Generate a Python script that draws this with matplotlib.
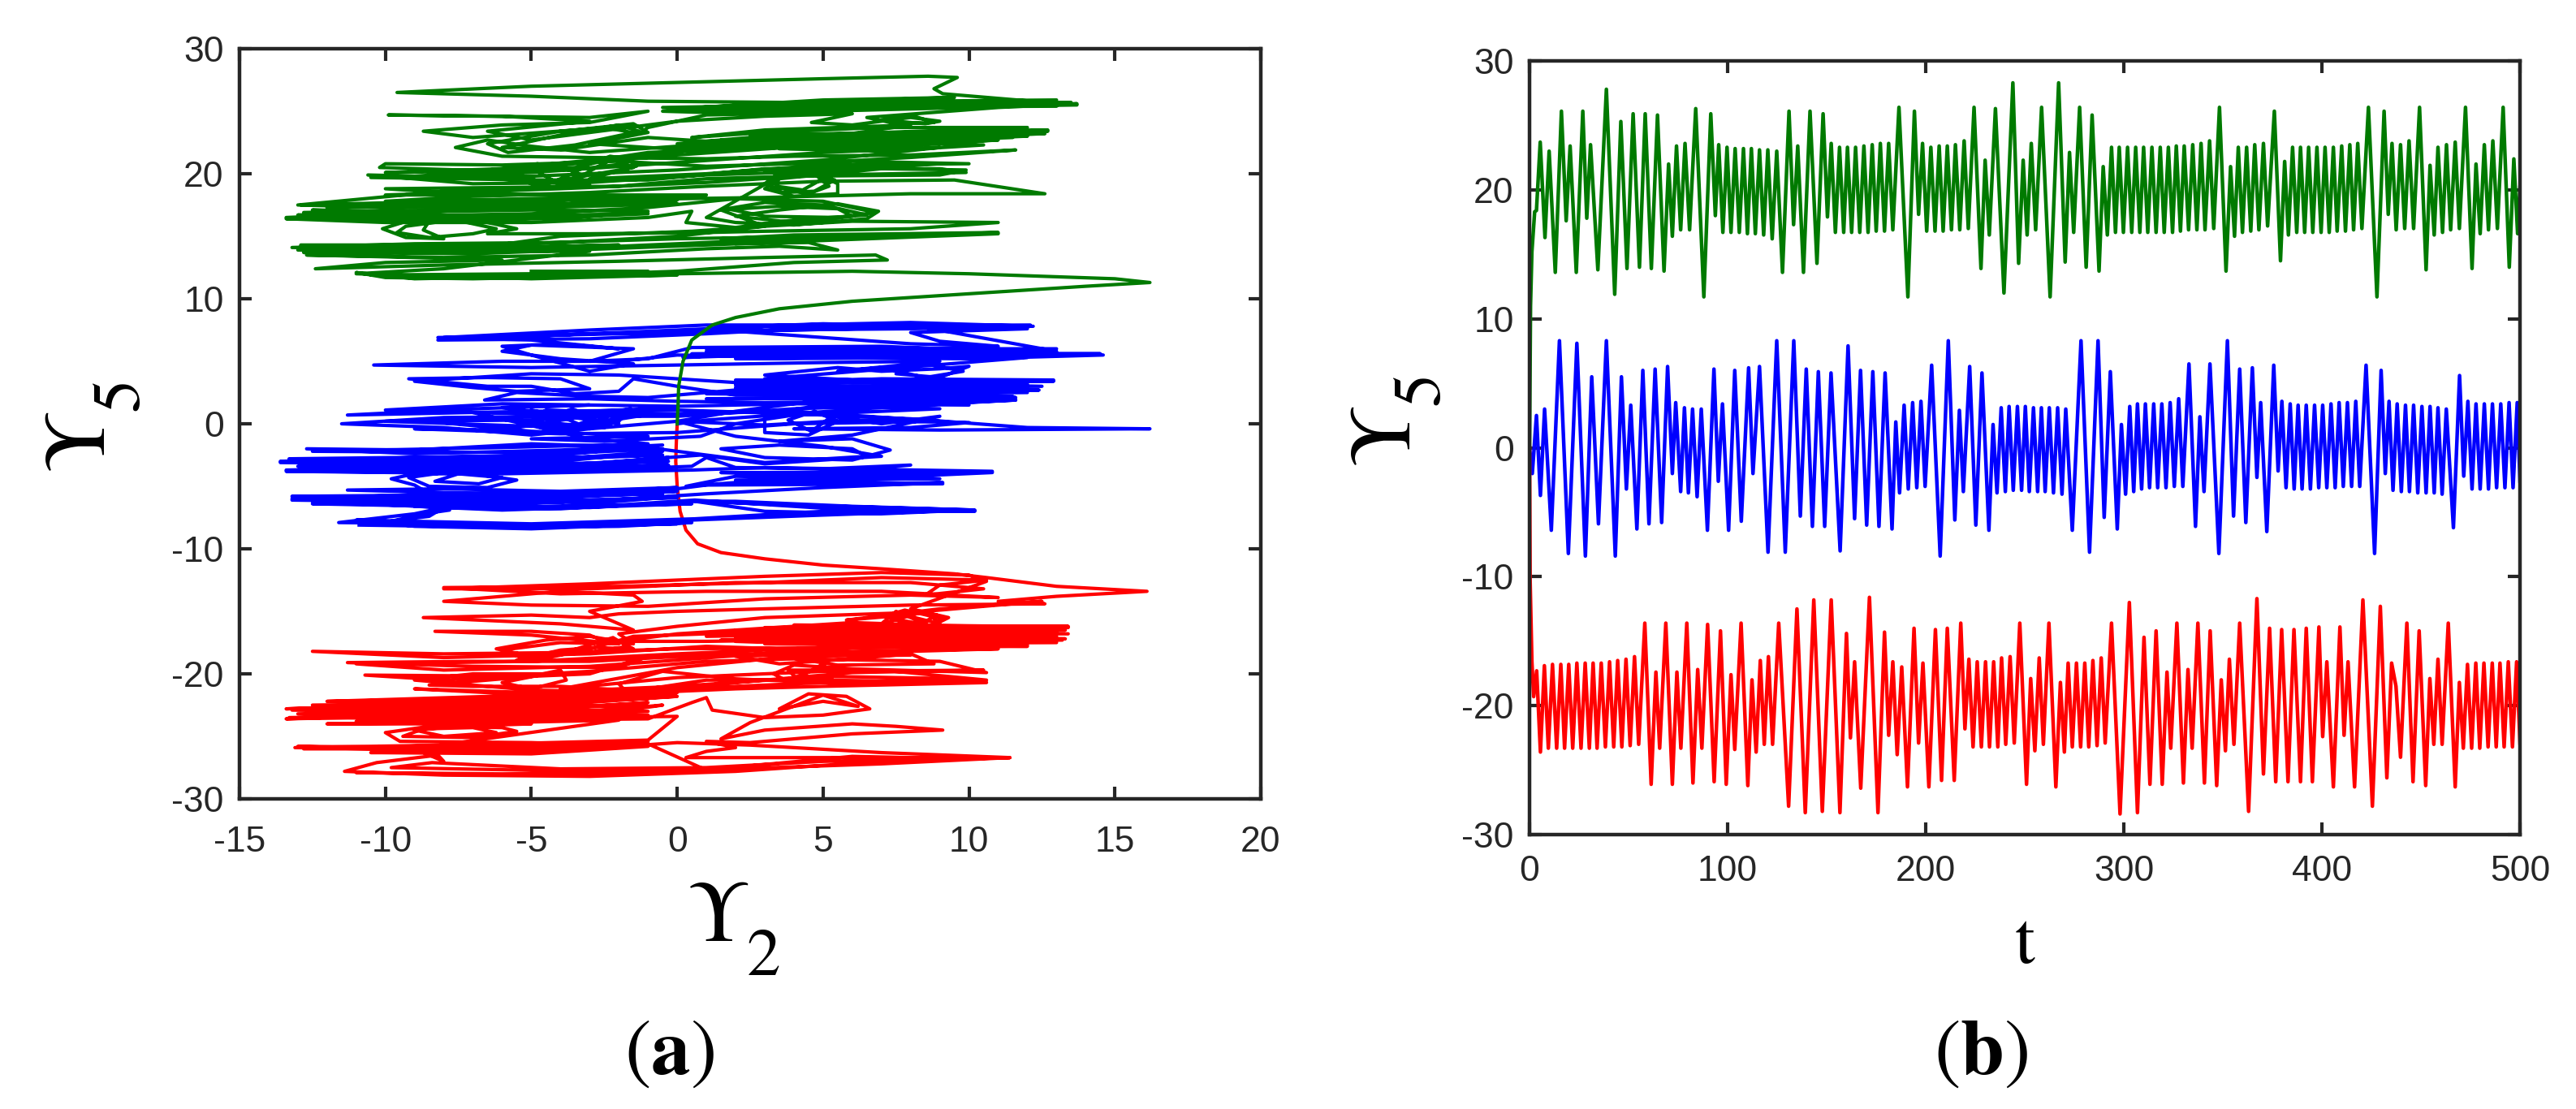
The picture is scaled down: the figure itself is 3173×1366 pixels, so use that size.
import numpy as np
import matplotlib
matplotlib.use('Agg')
import matplotlib.pyplot as plt

W, H = 3173, 1366
DARK = '#262626'
GREEN = '#007a00'
BLUE = '#0000ff'
RED = '#ff0000'

x_ticks_a = [-15, -10, -5, 0, 5, 10, 15, 20]
y_ticks = [-30, -20, -10, 0, 10, 20, 30]
x_ticks_b = [0, 100, 200, 300, 400, 500]

# (a) orbits, Y2 vs Y5, traced by eye
green_orbit = [
    (0, 0), (0.03, 1.5), (0.05, 3), (0.2, 5), (0.5, 6.7), (1.2, 7.9), (2, 8.5), (3.5, 9.2), (6, 9.8), (10, 10.4),
    (14, 11), (16.2, 11.3), (15, 11.6), (10, 12), (6, 12.2), (3, 12.1), (0, 12), (-3, 11.8), (-7, 11.6), (-10, 11.7),
    (-11, 12.1), (-9, 11.6), (-5, 11.8), (0, 12.2), (4, 12.9), (7.2, 13.1), (6.8, 13.5), (3, 13.3), (-2, 13), (-8, 12.7),
    (-12.4, 12.4), (-10, 12.9), (-6, 13.1), (-9, 13.3), (-12.7, 13.5), (-8, 13.3), (-3, 13.5), (1, 14), (3.5, 14.2), (5.5, 13.9),
    (4.5, 14.5), (2, 14.4), (1.5, 14.8), (4, 15.1), (11, 15.3), (6, 14.9), (2, 14.6), (-3, 14.1), (-8, 13.9), (-13.2, 14.1),
    (-9, 14.4), (-4, 14.5), (0, 15), (3, 15.8), (6, 16.2), (11, 16.1), (8, 15.6), (3, 15.4), (1, 15.3), (-3, 15.2),
    (-6.5, 15.2), (-5.5, 15.6), (-6.5, 16.1), (-8, 16.2), (-9.3, 15.8), (-9.6, 15.3), (-8.5, 14.9), (-7, 15.2), (-6.2, 15.6), (-7.2, 16.1),
    (-9, 16.4), (-10.1, 15.6), (-9.3, 14.9), (-8, 14.8), (-8.7, 15.5), (-8.5, 16.2), (-12, 16.4), (-13.4, 16.4), (-10, 16.1), (-5, 16.1),
    (-1, 16.5), (0.5, 17), (0.3, 16.1), (2, 15.7), (4, 16.3), (6.5, 16.7), (5, 17.5), (3, 17.7), (1.7, 17.2), (3, 16.6),
    (5.5, 16.5), (6.8, 16.9), (5, 17.8), (2, 18), (-1, 17.3), (-5, 16.8), (-10, 16.6), (-13, 16.7), (-9, 16.5), (-4, 16.4),
    (-1, 17), (-5, 17.1), (-10, 16.9), (-12.5, 17.1), (-9, 17), (-4, 17.4), (0, 17.9), (-5, 17.5), (-10, 17.3), (-12.9, 17.5),
    (-9, 17.6), (-5, 17.8), (-1, 18.2), (-5, 18), (-10, 17.8), (-7, 18.2), (-3, 18.5), (1, 19), (5, 19.4), (9.5, 19.5),
    (12.6, 18.4), (8, 18.4), (3, 18.1), (0, 18), (-4, 18.3), (-8, 18.5), (-10, 18.8), (-6, 18.9), (-2, 19), (1, 19.6),
    (4, 19.8), (9, 19.9), (9.9, 20.3), (7, 20.4), (3.5, 19.6), (3, 18.8), (4, 18.2), (5.5, 18.4), (5.5, 19.2), (4.8, 20),
    (3.5, 20), (3.2, 19), (4.5, 18.4), (5.2, 19), (4.7, 20), (4, 19.8), (5, 20.5), (9, 20.8), (5, 20.2), (1, 19.9),
    (-3, 19.3), (-7, 19.2), (-10.6, 19.9), (-7, 19.7), (-3.5, 19.2), (-3.5, 20.2), (-4.8, 20.8), (-5.5, 20), (-4.5, 19.2), (-3.2, 19.8),
    (-3.9, 20.6), (-4.9, 20.3), (-4.2, 19.4), (-1.5, 20.5), (-2.2, 21.2), (-3.5, 20.5), (-6, 20.2), (-10.2, 20.5), (-10, 20.8), (-6, 20.7),
    (-2, 21), (1, 20.6), (4, 20.8), (8, 21.3), (11.6, 21.9), (8, 21.5), (4, 21.4), (1, 21.2), (-3, 21.3), (-6, 21.4),
    (-7.6, 22.1), (-6.5, 22.7), (-5, 22.2), (-3, 21.7), (0, 22.2), (3, 22.5), (7, 23), (12.7, 23.5), (7, 22.8), (3, 22.7),
    (0, 22.4), (3, 23), (7, 23.3), (12, 23.7), (7, 23.7), (3, 23.3), (0.5, 22.9), (3, 23.5), (8, 23.9), (3, 22.2),
    (7, 22.3), (11, 22.7), (7, 22.1), (3.5, 22), (7, 21.8), (10.5, 22.3), (7, 22.5), (1, 21.8), (-3, 22.4), (-1, 23.3),
    (-1.5, 24), (-3.5, 23.5), (-7, 22.9), (-8.7, 23.4), (-6, 23.9), (-3, 24.1), (-1, 25), (-3, 24.5), (-9.9, 24.7), (-6, 24.6),
    (-3, 24.2), (-6.5, 23.4), (-5, 22.7), (-3, 23.3), (0, 24.2), (3, 24.6), (6, 24.8), (4.6, 24.1), (6, 23.9), (8, 24.5),
    (9, 24.2), (8.5, 24), (7, 24.3), (8, 24.7), (8.8, 24.1), (7.5, 24), (6.5, 24.5), (11, 25.3), (13.7, 25.6), (10, 25.3),
    (5, 25), (1, 24.9), (-0.5, 25), (3, 25.4), (8, 25.5), (13, 25.9), (8, 25.8), (3, 25.6), (0, 25.2), (5, 25.9),
    (9.5, 26.1), (4, 25.7), (-1, 25.8), (-5, 26.2), (-9.6, 26.5), (-5, 27), (0, 27.3), (5, 27.6), (8.6, 27.8), (9.6, 27.7),
    (8.8, 26.8), (9.1, 26.4),
]
# later passes of the green orbit, these fill the solid bands and curls
green_fill = [
    (13.7, 25.5), (2, 25.1), (13.5, 25.7), (2, 25.3), (13, 25.4), (3, 25.7), (12, 25.8), (-0.5, 25.3), (5, 24.9), (1, 24.7),
    (-1, 23.7), (-1.3, 23.2), (-2.5, 23.7), (-4, 23.4), (-6.5, 22.4), (-5.8, 21.7), (-3.5, 22.3), (-1.3, 23.4), (-2, 23.9), (-3.8, 23.2),
    (-6, 22.1), (-4, 21.9), (-1, 22.9), (1, 22.6), (12.7, 23.4), (1.5, 22.7), (12.6, 23.2), (1, 22.4), (12, 23), (2, 22.5),
    (12.5, 23.5), (2.5, 23.1), (12, 23.3), (0, 22.1), (11.5, 22.9), (-1, 21.7), (-3, 21), (-7, 20.2), (-10, 20.1), (-6, 20.4),
    (-2, 21.3), (1, 22), (5, 22.6), (9, 23), (5, 22.3), (0, 21.5), (-5, 20.5), (-9, 19.8), (-5, 20.1), (0, 20.9),
    (5, 21.7), (9, 22.1), (5, 21.1), (0, 20.3), (-5, 19.8), (-10.5, 19.7), (-5, 19.5), (-1, 19.5), (3, 20.4), (9, 20.4),
    (9.9, 20.1), (5, 19.9), (3, 20.2), (6, 21), (10, 20.8), (5, 20.7), (1, 20), (-3, 19.6), (-1.4, 20.6), (-1.7, 21.2),
    (-2.3, 21.4), (-3, 20.8), (-3.6, 20), (-4.3, 19.3), (-5, 19.2), (-5.5, 19.7), (-5.2, 20.4), (-3.6, 20.3), (-1.8, 20.8), (-2.1, 21.3),
    (-2.7, 20.6), (-3.3, 19.8), (-4.1, 19.1), (-3, 19.1), (-8, 18.6), (-13, 17.5), (-6, 17.9), (-1, 18), (-7, 17.1), (-13.4, 16.5),
    (-6, 16.3), (-1, 16.8), (-7, 16.6), (-12.8, 16.9), (-6, 17.2), (0, 17.6), (-6, 17.6), (-12, 17.3), (-6, 17.7), (1, 18.3),
    (-5, 18.3), (-10, 18.3), (-4, 18.8), (1, 19.3), (4.8, 19.9), (5.4, 19.5), (4.7, 18.6), (3.6, 18.5), (3, 19.2), (3.6, 20.3),
    (4.5, 20.4), (5, 19.6), (4.3, 18.7), (3.4, 19), (3.5, 19.8), (1, 16.5), (2, 16.1), (4, 15.9), (6.5, 16.4), (6.9, 17),
    (5.5, 17.6), (3.5, 17.1), (2, 16.6), (4, 16.1), (6, 16.6), (5.5, 17.2), (3.5, 17.4), (1.5, 17.1), (3, 15.8), (0.5, 15.4),
    (-4, 15), (-8, 13.7), (-13, 13.9), (-7, 14.1), (-2, 14.3), (-7, 14), (-12.9, 14.3), (-7, 14.3), (0, 14.8), (11, 15.2),
    (1, 14.3), (-7, 13.6), (-12.8, 13.7), (-3, 13.8), (-8, 12.4), (-11, 12), (-5, 11.6), (0, 11.9), (-6, 11.7), (-10.5, 11.9),
    (-5, 12), (-1, 12.2), (-5, 12.2),
]
blue_orbit = [
    (0, 0), (1, 0.3), (4, 0.8), (7, 1.3), (10, 1.7), (11.6, 1.9), (8, 1.5), (4, 1.2), (0, 0.6), (-4, 0.6),
    (-8, 0.5), (-11.5, 0), (-8, -0.3), (-5, -0.9), (-3, -0.4), (0, 0.2), (3, -0.1), (6, 0.3), (10, 0.1), (8, -0.3),
    (4, -0.4), (9, -0.5), (16.2, -0.4), (12, -0.3), (8, 0.4), (4, 0.8), (0, 1.1), (-5, 1), (-11.3, 0.7), (-7, 1.2),
    (-3, 1.5), (-6, 1.3), (-2, 0), (-3.2, 1), (-4.5, 1.1), (-5, 0.2), (-4, -0.6), (-2.8, 0.5), (-3.6, 1.2), (-4.5, 0.4),
    (-3.6, -0.5), (-2.3, 0.7), (-1.5, 1), (-2.5, -0.3), (-6, 0.4), (-9, 0.3), (-5, -0.6), (-1, -1), (-5, -1.2), (-2.5, -1.4),
    (0.8, -1), (2, 0), (4, 0.7), (7, 1), (9, 1.2), (5, 1.5), (3, 0.8), (3, -0.7), (4.5, -0.9), (5.5, 0.2),
    (4.7, 1), (3.8, 0.3), (4.6, -0.6), (5.3, 0.6), (7, 0), (9, 0.6), (6, -0.9), (3.5, -1.4), (6, -1.2), (7.3, -2.1),
    (6, -2.9), (3, -2.7), (1.5, -2), (3.5, -1.7), (6, -2), (6.5, -2.6), (3, -3.1), (1, -2.5), (-1, -1.9), (-5, -1.6),
    (-9, -2.1), (-12.7, -2), (-9, -2.4), (-4, -2.1), (-0.5, -1.7), (-4, -2.5), (-9, -2.7), (-13.6, -3), (-9, -2.9), (-4, -2.8),
    (-0.5, -2.2), (-4, -3), (-9, -3.2), (-12, -3.2), (-8, -3.3), (-3, -3.2), (-0.3, -2.7), (-4, -3.5), (-9, -3.5), (-13.4, -3.7),
    (-9, -3.8), (-4, -3.8), (0.5, -3.4), (1, -2.7), (2, -3.5), (5, -3.6), (8, -3.3), (5, -3.9), (1.5, -3.9), (5, -4.1),
    (10.8, -3.9), (6, -4.4), (2, -4.2), (0.3, -5), (2, -4.7), (6, -4.8), (9.1, -4.7), (5, -5.1), (1, -5.6), (-3, -6.2),
    (-8, -6), (-13.2, -6), (-8, -5.6), (-3, -5.5), (0, -5.1), (-4, -5.4), (-8, -5.2), (-11.3, -5.3), (-8, -5.5), (-3, -5.7),
    (0, -5.4), (-4, -5.9), (-9, -6.2), (-4, -6.3), (0, -5.8), (-4, -6.6), (-9, -6.5), (-12.5, -6.2), (-8, -6.7), (-3, -6.7),
    (0.5, -6.2), (4, -6.5), (10.2, -6.9), (6, -6.6), (2, -6.2), (0.6, -6.2), (3, -7), (7, -7.2), (10, -6.9), (5, -7.3),
    (0.5, -7.7), (-4, -8.1), (-8, -8), (-11.6, -7.9), (-9, -7.2), (-8, -6.7), (-8.5, -7.4), (-10.2, -7.9), (-6, -8.3), (-2, -8.2),
    (0.5, -7.9), (-5, -8.4), (-9, -8.2), (-10, -7.9), (-8.7, -7.2), (-7.8, -6.9), (-8.2, -6), (-9, -4.9), (-9.8, -4.4), (-9, -4),
    (-7, -4), (-5.5, -4.5), (-6.5, -5.1), (-8.5, -5), (-9.2, -4.3), (-8, -3.9), (-6, -4.3), (-6.8, -4.8), (-8.3, -4.6), (-7.5, -4),
    (-6, -3.6), (-2, -3), (0.8, -2.5), (3, -3.2), (7, -2.6), (5, -1.8), (2, -1), (0, 0.2), (2, 1), (5, 1.9),
    (9, 2.2), (11.6, 1.9), (7, 1.8), (3, 1.7), (0, 1.8), (-3, 2), (-6.6, 1.9), (-5.5, 2.5), (-3, 2.2), (-1, 2.1),
    (2, 2.7), (6, 2.9), (12, 2.5), (7, 2.4), (2, 2.3), (0, 3), (-1.5, 3.6), (-2, 2.6), (-3.5, 2.4), (-5, 3),
    (-6.5, 3), (-9.2, 3.6), (-6.5, 3.7), (-4, 3.6), (-3, 2.8), (-5.5, 2.6), (-7, 2.9), (-9, 3.4), (-5, 4), (-2, 3.9),
    (2, 3.3), (6, 3.3), (12.9, 3.5), (7, 3.6), (2, 3.1), (7, 3), (12, 3.2), (6, 3.5), (3, 3.9), (5.5, 4.5),
    (7, 4.2), (9, 4.4), (10, 4.6), (9, 3.7), (7.5, 4), (8.5, 4.8), (9.8, 4.2), (8.5, 3.7), (7, 4.5), (5.5, 4.2),
    (9, 5), (5, 4.9), (0, 4.7), (-5, 4.5), (-10.4, 4.7), (-6, 5), (-2, 5), (0, 5.5), (5, 5.3), (10, 5.2),
    (14.6, 5.5), (9, 5.8), (4, 5.6), (0.2, 5.3), (5, 6), (12.9, 5.9), (7, 6.1), (1, 5.8), (6, 5.4), (13, 5.6),
    (7, 6.2), (0.5, 6.1), (-1, 5.2), (-3, 5), (-1.5, 6), (-5, 6.3), (-6, 5.8), (-4, 5.2), (-1.5, 4.8), (-3, 4.2),
    (-5, 5.5), (-6, 6.2), (-4, 6.4), (-2, 6), (-5, 6.7), (-8.2, 6.9), (-5, 7), (0, 7.5), (4, 7.9), (8, 8.1),
    (12.2, 7.8), (8, 7.6), (3, 7.5), (1.5, 7.7), (5, 8), (12, 7.6), (8, 7.3), (9, 6.6), (11, 6.2), (8, 6.4),
    (2, 7.4), (-3, 7.2), (-8.2, 6.7), (-3, 6.8), (1, 7.2), (5, 7.7),
]
blue_fill = [
    (12, 7.7), (2, 7.8), (12.1, 7.9), (-8, 6.9), (-3, 7.5), (1, 7.9), (8, 7.9), (13, 5.8), (1, 5.5), (14.5, 5.6),
    (1, 5.7), (13, 6), (1, 6), (12, 5.8), (0.5, 5.6), (13, 5.5), (2, 5.2), (12, 5.3), (3, 3.6), (12.9, 3.4),
    (2, 3.5), (12.5, 3), (2, 2.9), (12, 2.8), (2, 2.5), (12.4, 2.7), (1, 2.4), (11.5, 2.2), (1, 2), (11.6, 2.1),
    (5, 2.1), (10, 1.5), (4, 1.6), (0, 1.4), (-6, 1.6), (-10, 1.1), (-5, 0.8), (0, 1.3), (-5, 0.3), (-10, 0.2),
    (-5, -0.2), (-3, 0), (-1.1, 0.7), (-1.3, 1.2), (-2.3, 0.3), (-3.1, -0.3), (-4.5, -0.4), (-5.6, 0.3), (-5, 1.1), (-4, 0.6),
    (-3, -0.4), (-2, 0.2), (-1.6, 1.2), (-6, -0.5), (-9, -0.4), (-4, -0.8), (0, -0.7), (4, 0), (9, 0.2), (4, 1),
    (0, 0.8), (-7, 0.9), (-3, -1.2), (-1, -1.6), (-6, -1.9), (-12.5, -2.2), (-6, -2.3), (-0.5, -2), (-6, -2.6), (-13.3, -2.8),
    (-6, -2.8), (-0.5, -2.5), (-6, -3), (-13.6, -3.1), (-6, -3.3), (-0.3, -3), (-6, -3.5), (-13, -3.4), (-6, -3.7), (-0.3, -3.3),
    (-7, -3.9), (-13.4, -3.8), (-6, -4), (0.5, -3.7), (3, -3.5), (10.8, -3.8), (3, -3.9), (9, -4.4), (2, -4.5), (9.1, -4.8),
    (1, -4.9), (-1, -5.5), (-8, -5.7), (-13.2, -5.8), (-8, -5.9), (-0.5, -5.6), (-8, -6.1), (-13.2, -6.1), (-7, -6.3), (0, -5.9),
    (-7, -6.5), (-12.5, -6.4), (-6, -6.7), (0.5, -6.4), (-6, -6.9), (-9, -6.6), (-4, -6.8), (0.6, -6.1), (6, -6.9), (10.2, -7),
    (5, -7), (0.6, -7.6), (-5, -8), (-11, -7.7), (-5, -8.2), (0, -8), (-5, -8.3), (-10.9, -8.1),
]
red_orbit = [
    (0, 0), (-0.03, -1.5), (-0.05, -3), (0, -5), (0.1, -7), (0.3, -8.5), (0.7, -9.6), (1.5, -10.3), (3, -10.8), (5, -11.3),
    (7, -11.6), (9.5, -12), (10.6, -12.3), (13, -13), (16.1, -13.4), (13, -13.8), (11, -14.2), (12.6, -14.4), (8, -14.5), (3, -14.8),
    (0, -15), (-2, -15.2), (-3, -15.5), (-5, -15.3), (-8.7, -15.5), (-4, -16), (-1.5, -16.5), (-3, -15), (-1.2, -14.2), (-1.5, -13.7),
    (-4, -13.4), (-8, -14.2), (-5, -14.5), (-1, -14.6), (3, -14), (8, -13.7), (11, -13.9), (7, -13.4), (1, -13.4), (-4, -13.6),
    (-8, -13.1), (-2, -13), (3, -12.7), (7, -12.3), (10.6, -12.5), (9, -12.9), (8.5, -13.7), (10.5, -13.2), (8, -12.7), (2, -12.7),
    (-3, -13.2), (-8, -13.2), (-3, -12.8), (3, -12.2), (7, -11.9), (10, -12.1), (10.6, -12.6), (8, -14.8), (9.3, -15.5), (8.7, -16.2),
    (7.5, -15), (7, -16), (8.5, -15), (9, -16), (7.8, -15.3), (5.8, -15.7), (9, -14.8), (12.5, -14.2), (8, -15.1), (3, -15.5),
    (0, -16.2), (-2, -16.8), (-1.5, -17.6), (-2.5, -17.4), (-3, -16.9), (-5, -16.6), (-8.3, -16.6), (-5, -16.9), (-2, -17.6), (-4, -17.5),
    (-6, -18.1), (-5, -19), (-3, -18), (-1.5, -17), (1, -16.8), (5, -16.2), (13.4, -16.3), (6, -16.5), (1, -17), (6, -16.8),
    (13, -16.6), (6, -17), (1.5, -17.3), (6, -17.2), (13.2, -17.3), (7, -17.5), (2, -17.4), (7, -17.7), (12, -17.7), (6, -17.9),
    (0, -18), (-4, -18.3), (-8, -18.4), (-12.5, -18.2), (-8, -18.7), (-3, -18.4), (1, -17.8), (6, -18.2), (11, -18), (5, -18.4),
    (2, -18.6), (3.5, -19.2), (6, -18.8), (8, -18.4), (8.8, -19.2), (5.5, -19.3), (3, -18.4), (1, -18.5), (-3, -19), (-7, -19),
    (-11.3, -19.1), (-7, -19.4), (-2, -19.5), (-1, -18.6), (-3, -20), (-5, -20.2), (-10.7, -20.1), (-8, -20.5), (-3, -19.8), (1, -19),
    (4, -18.8), (9, -19), (10.6, -19.9), (6, -19.6), (4, -19.3), (3.3, -20), (3.7, -20.5), (4.4, -20), (5, -19.2), (5.3, -20.3),
    (4.2, -20.6), (3.8, -19.7), (7, -19.7), (10.6, -20.5), (6, -20.8), (2, -20.4), (-0.5, -19.8), (-2, -20.8), (-1.8, -21.3), (-4, -21),
    (-7, -21), (-8.5, -20.9), (-5, -20.2), (-4, -19.7), (-3.8, -20.5), (-5, -21.2), (-6, -20.7), (-4.5, -20), (-7, -20), (-9, -20.5),
    (-5, -21.3), (-1, -21.5), (2, -21.2), (5, -21), (10.6, -20.7), (5, -20.5), (1, -20.5), (-1, -21.2), (-5, -21.7), (-12, -22.2),
    (-7, -22), (-2, -21.9), (0, -21.5), (-5, -22.1), (-13.4, -22.8), (-8, -22.4), (-3, -22.2), (0, -21.8), (-5, -22.6), (-10, -22.8),
    (-5, -22.9), (-1, -22.3), (-6, -23), (-13.4, -23.6), (-7, -23.3), (-2, -23), (-0.5, -22.5), (-5, -23.4), (-11, -23.8), (-5, -23.7),
    (-1, -23.6), (0.5, -22.3), (1, -21.9), (1.2, -22.9), (3, -23.5), (5, -23.3), (6.6, -22.8), (5.8, -21.8), (4.5, -21.6), (3.5, -22.8),
    (5, -22.2), (6.2, -22.6), (5, -21.7), (2.5, -23.9), (1.5, -25.2), (3, -24.5), (6, -24), (7.5, -24.2), (9.1, -24.5), (6, -24.8),
    (2.5, -25.5), (1, -25.4), (2, -25.9), (1, -26.2), (0.3, -26.7), (3, -26.7), (7, -26.7), (11.4, -26.7), (7, -26.3), (2.5, -25.7),
    (0, -25.5), (-3, -26), (-8, -26.1), (-13.1, -25.9), (-8, -25.7), (-4, -25.7), (-1, -25.4), (-5, -26.2), (-10.5, -26.3), (-5, -26.4),
    (-1, -25.8), (-5, -25.5), (-9.5, -25.4), (-10, -24.7), (-8.5, -24.2), (-6, -24.3), (-5.5, -24.6), (-7, -25.1), (-9.4, -25), (-8.7, -24.4),
    (-7, -24.3), (-6.2, -24.7), (-8, -25), (-9, -24.5), (-7.5, -24.2), (-5, -24), (-9, -24), (-12, -24), (-6, -23.9), (-2, -23.7),
    (-9, -26), (-8, -27), (-8.2, -26.5), (-10.3, -27.1), (-11.4, -27.8), (-8, -28.1), (-3, -28.2), (2, -27.8), (7, -27), (11.4, -26.7),
    (7, -27.2), (2, -27.6), (-3, -27.8), (-9.8, -27.5), (-8.4, -27.1), (-4, -27.6), (1, -27.5), (5, -27),
]
red_fill = [
    (10, -26.8), (6, -26.6), (0, -27.9), (-6, -28), (-11, -27.9), (-5, -28.1), (1, -27.7), (-1, -25.6), (-8, -25.9), (-13, -25.8),
    (-7, -26.2), (-2, -25.8), (-7, -26), (-12.8, -26), (-6, -25.6), (-1, -25.3), (0, -23.4), (-6, -23.6), (-13.3, -23.5), (-6, -23.2),
    (-1, -23), (-6, -22.8), (-13, -23.2), (-6, -23.5), (-1, -23.3), (-7, -23.1), (-13.2, -22.9), (-6, -22.5), (-1, -22.6), (-7, -22.7),
    (-12.5, -22.5), (-6, -22.3), (-1, -22), (-7, -22.2), (-11.5, -22.3), (-5, -21.9), (0, -21.2), (5, -20.7), (10, -20.4), (5, -20.2),
    (0, -21), (-5, -21.5), (-9, -21.2), (-4, -21.8), (1, -20.9), (6, -19.9), (10.5, -19.7), (5, -19.8), (0, -20.3), (-4, -21.2),
    (0, -19.5), (4, -18.6), (8, -18.5), (4, -18.2), (0, -18.9), (-3, -19.4), (-8, -19.7), (-11, -19.2), (-5, -19), (0, -18.4),
    (5, -17.9), (12, -17.8), (3, -17.6), (13, -17.5), (2, -17.2), (13.3, -17.2), (2, -17), (13, -17), (1, -16.8), (13.4, -16.8),
    (2, -16.5), (13.3, -16.5), (3, -16.3), (13.4, -16.2), (4, -16.1), (12, -16.2), (6, -16.1), (8.5, -16.4), (9.1, -15.6), (7.8, -14.9),
    (7.1, -15.4), (8.2, -16.2), (8.9, -15.3), (8.1, -15), (7.4, -15.6), (8.6, -16.1), (6, -15.9), (4, -16.2), (0, -16.8), (-2, -17.4),
    (-1.5, -18), (-2.8, -17.9), (-4, -18.1), (-5.5, -18.9), (-4, -18.4), (-2.2, -17.1), (-1.7, -17.8), (-3, -18.3), (-5, -18.6), (-6.2, -18),
    (-4.5, -17.3), (-3, -17), (-2, -17.4), (1, -17.4), (7, -17.2),
]

# (b) extrema of Y5(t) as (t, value)
green_ts = [
    (0, 0), (0.5, 11), (1.2, 15.2), (2.6, 18.3), (3.5, 18.4), (5.4, 23.7), (7.8, 16.3), (9.9, 23), (13, 13.6), (16.1, 26.1),
    (18.5, 17.6), (20.5, 23.4), (23.6, 13.6), (26.9, 26.1), (28.9, 17.8), (30.8, 23.5), (34.5, 13.8), (38.8, 27.8), (43, 11.9), (46.1, 25.3),
    (49.2, 13.9), (52.3, 25.9), (55.5, 14), (58.4, 25.9), (61.5, 13.9), (64.6, 25.8), (67.9, 13.7), (70.2, 22), (72.1, 16.4), (74.2, 23.4),
    (76.3, 16.9), (78.5, 23.6), (80.8, 16.9), (83.9, 26.3), (88, 11.7), (91.5, 25.9), (93.8, 18), (95.5, 23.5), (97.6, 16.7), (99.7, 23.3),
    (101.7, 16.7), (103.8, 23.2), (105.9, 16.7), (108, 23.2), (110, 16.6), (112, 23.2), (114, 16.6), (116.1, 23.1), (118.2, 16.5), (120.3, 23.1),
    (122.5, 16.2), (124.8, 23), (127.7, 13.6), (131, 26.1), (133.3, 17.3), (135.4, 23.4), (138.3, 13.6), (141.6, 26.1), (145.1, 14.3), (148.2, 25.9),
    (150.4, 17.9), (152.3, 23.6), (154.4, 16.7), (156.5, 23.3), (158.6, 16.7), (160.5, 23.3), (162.6, 16.7), (164.6, 23.3), (166.7, 16.7), (168.8, 23.4),
    (170.9, 16.7), (173, 23.5), (175, 16.8), (177.1, 23.6), (179.2, 16.8), (181.3, 23.6), (183.4, 16.9), (186.5, 26.4), (191, 11.7), (194.3, 26.1),
    (196.4, 18.1), (198.4, 23.6), (200.5, 16.8), (202.6, 23.3), (204.7, 16.8), (206.8, 23.4), (208.8, 16.8), (210.9, 23.4), (213, 16.9), (215, 23.5),
    (217.2, 16.9), (219.4, 23.8), (221.5, 17), (224.4, 26.4), (227.9, 13.9), (230, 22.3), (232.1, 16.5), (235.2, 26.3), (239.5, 12), (244, 28.3),
    (246.9, 14.3), (249.2, 22.3), (251.2, 16.5), (253.3, 23.6), (255.5, 16.9), (258.5, 26.4), (262.8, 11.7), (267.1, 28.3), (270.4, 14.4), (272.6, 22.9),
    (274.7, 16.7), (277.7, 26.4), (281, 14), (284, 25.8), (287.5, 13.7), (289.6, 21.8), (291.7, 16.5), (293.8, 23.3), (295.8, 16.7), (297.7, 23.3),
    (299.8, 16.7), (301.9, 23.3), (304, 16.7), (306, 23.3), (308.1, 16.7), (310, 23.3), (312.1, 16.7), (314.2, 23.3), (316.3, 16.7), (318.4, 23.3),
    (320.4, 16.7), (322.5, 23.3), (324.6, 16.7), (326.5, 23.4), (328.6, 16.8), (330.5, 23.4), (332.7, 16.9), (334.8, 23.5), (336.9, 16.9), (339, 23.6),
    (341, 16.9), (343.3, 23.8), (345.4, 17), (348.3, 26.4), (351.6, 13.7), (353.9, 21.8), (355.9, 16.4), (357.8, 23.3), (359.9, 16.7), (362, 23.3),
    (364.1, 16.8), (366.1, 23.5), (368.2, 16.9), (370.5, 23.6), (372.6, 17.2), (376, 26.1), (379.1, 14.5), (381.2, 22.2), (383.1, 16.5), (385.2, 23.3),
    (387.3, 16.7), (389.2, 23.3), (391.3, 16.7), (393.3, 23.3), (395.4, 16.7), (397.5, 23.3), (399.6, 16.7), (401.6, 23.3), (403.7, 16.7), (405.8, 23.3),
    (407.7, 16.8), (410, 23.4), (411.9, 16.8), (414.1, 23.5), (416, 16.9), (418.1, 23.6), (420.2, 17), (423.5, 26.4), (427.8, 11.7), (431.4, 26.1),
    (433.5, 18.1), (435.4, 23.6), (437.5, 16.9), (439.7, 23.5), (441.8, 17), (444, 23.8), (446.3, 17), (449.3, 26.4), (452.6, 13.8), (454.6, 21.9),
    (456.7, 16.5), (458.6, 23.3), (460.9, 16.7), (462.9, 23.5), (465, 16.9), (467.3, 23.7), (469.4, 17), (472.5, 26.4), (475.8, 13.9), (477.8, 22),
    (479.9, 16.6), (482, 23.5), (484.1, 16.9), (486.3, 23.8), (488.6, 17), (491.5, 26.4), (494.6, 14), (496.9, 22.4), (498.8, 16.6), (500, 20.2),
]
blue_ts = [
    (0, 0), (1.4, -2), (3.5, 2.5), (5.5, -3.7), (7.6, 3), (11, -6.4), (15.1, 8.3), (19.6, -8.2), (23.9, 8.1), (28.2, -8.4),
    (31.4, 5.5), (34.8, -5.9), (38.8, 8.3), (43.3, -8.4), (46.4, 5.5), (48.9, -3.2), (51.1, 3.3), (54.2, -6.3), (57.2, 6), (60.3, -5.9),
    (63.4, 6.1), (66.7, -5.8), (69.7, 6.3), (72.1, -2), (73.8, 3.5), (76.3, -3.4), (78.2, 3.1), (80.2, -3.5), (82.3, 3), (84.6, -3.8),
    (86.7, 3), (89.8, -6.4), (93.1, 6.1), (95.3, -2.6), (97.4, 3.4), (100.5, -6.4), (103.6, 6), (106.9, -5.7), (110.6, 6.2), (112.8, -2),
    (116.1, 6.3), (120.4, -8.1), (124.8, 8.3), (129.1, -8.1), (133.4, 8.3), (136.7, -5.3), (139.7, 6.1), (142.8, -6.1), (145.8, 5.9), (149, -6.1),
    (152.2, 5.8), (156.8, -8), (160.8, 7.9), (164.1, -5.5), (167.1, 6), (170.2, -6), (173.3, 5.9), (176.4, -6.1), (179.5, 5.8), (183, -6.3),
    (184.9, 2), (186.8, -3.5), (189.1, 3.3), (191.2, -3.2), (193.4, 3.5), (195.5, -3.1), (197.6, 3.6), (199.7, -3), (203, 6.4), (207.3, -8.4),
    (211.4, 8.3), (214.7, -5.6), (217, 2.9), (219, -3.4), (222.2, 6.3), (225.3, -6), (228.4, 5.8), (231.9, -6.4), (234, 1.8), (236, -3.5),
    (238.1, 3.1), (240.2, -3.4), (242.1, 3.2), (244.2, -3.3), (246.3, 3.2), (248.4, -3.3), (250.3, 3.2), (252.3, -3.4), (254.4, 3.1), (256.5, -3.4),
    (258.4, 3.1), (260.3, -3.4), (262.4, 3.1), (264.5, -3.5), (266.6, 3.1), (268.8, -3.6), (270.7, 3), (274, -6.4), (278.4, 8.3), (282.7, -8.1),
    (287, 8.3), (290.1, -5.4), (293.2, 5.9), (296.7, -6.3), (298.8, 1.8), (300.9, -3.6), (303, 3.2), (305, -3.4), (306.9, 3.4), (309, -3.2),
    (310.9, 3.4), (313, -3.1), (315.1, 3.4), (317.1, -3.1), (319.2, 3.4), (321.3, -3.1), (323.4, 3.5), (325.5, -3), (327.7, 3.8), (329.8, -3),
    (332.9, 6.5), (336.2, -6.1), (338.4, 2.4), (340.5, -3.4), (343.5, 6.5), (348, -8.2), (352.3, 8.3), (355.4, -5.3), (358.5, 6.1), (361.6, -5.8),
    (364.9, 6.2), (367.2, -2.3), (369.1, 3.5), (372.2, -6.5), (375.7, 6.4), (377.9, -1.8), (379.8, 3.6), (381.9, -3.1), (384, 3.4), (386, -3.2),
    (388, 3.3), (390, -3.2), (392.1, 3.3), (394.2, -3.2), (396.3, 3.3), (398.4, -3.1), (400.4, 3.3), (402.5, -3.1), (404.6, 3.4), (406.7, -3.1),
    (408.7, 3.5), (410.8, -3), (412.9, 3.5), (415, -3), (417.1, 3.6), (419.1, -3), (422.3, 6.4), (426.6, -8.2), (429.9, 6), (432, -2),
    (433.9, 3.6), (435.9, -3.3), (438, 3.4), (440.1, -3.4), (442.2, 3.3), (444.2, -3.4), (446.3, 3.3), (448.4, -3.5), (450.5, 3.2), (452.6, -3.5),
    (454.6, 3.2), (456.7, -3.5), (458.6, 3.1), (460.7, -3.6), (462.8, 3), (466.4, -6.2), (469.5, 5.6), (471.6, -2.2), (473.7, 3.6), (475.8, -3.2),
    (477.8, 3.4), (479.9, -3.2), (482, 3.4), (484.1, -3.2), (486.1, 3.4), (488.2, -3.1), (490.3, 3.4), (492.4, -3.1), (494.5, 3.5), (496.5, -3.1),
    (498.6, 3.5), (500, -2.6),
]
red_ts = [
    (0, 0), (0.3, -10.3), (1.2, -16.6), (2.1, -19.3), (3.6, -17.3), (5.5, -23.6), (7.5, -16.9), (9.5, -23.3), (11.6, -16.8), (13.7, -23.3),
    (15.8, -16.8), (17.7, -23.3), (19.8, -16.8), (21.8, -23.3), (23.9, -16.7), (26, -23.3), (28.1, -16.7), (30.2, -23.3), (32.1, -16.7), (34.1, -23.3),
    (36.2, -16.7), (38.3, -23.2), (40.4, -16.6), (42.5, -23.2), (44.5, -16.5), (46.6, -23.2), (48.7, -16.4), (50.8, -23.1), (53, -16.2), (55.1, -23),
    (58.2, -13.6), (61.4, -26.1), (63.8, -17.4), (65.7, -23.3), (68.8, -13.6), (72.1, -26.1), (74.4, -17.4), (76.4, -23.3), (79.4, -13.6), (82.5, -26),
    (84.9, -17.2), (87, -23.3), (89.9, -13.7), (93.2, -25.9), (96.4, -14.2), (99.3, -26.1), (101.7, -17.6), (103.6, -23.4), (106.8, -13.6), (110.2, -26.2),
    (112.3, -18), (114.4, -23.6), (116.5, -16.5), (118.5, -23), (120.6, -16.2), (122.7, -23), (125.8, -13.6), (130.8, -27.8), (135, -12.5), (139.2, -28.3),
    (143.5, -11.8), (147.8, -28.2), (152.3, -11.8), (156.7, -28.3), (160, -14.4), (162, -22.5), (164.1, -16.6), (167.2, -26.4), (171.6, -11.6), (175.9, -28.3),
    (179.2, -14.3), (181.3, -22.3), (183.4, -16.6), (185.6, -23.8), (187.9, -17), (190.8, -26.3), (194.1, -14), (196.4, -22.9), (198.6, -16.7), (201.6, -26.3),
    (204.9, -14.1), (208, -25.8), (210.9, -14), (214.4, -25.8), (217.7, -13.6), (219.8, -21.8), (221.8, -16.4), (223.9, -23.2), (226, -16.6), (228.1, -23.2),
    (230.2, -16.6), (232.2, -23.2), (234.3, -16.6), (236.4, -23.2), (238.3, -16.3), (240.4, -23), (242.6, -16.2), (244.7, -22.9), (247.5, -13.6), (250.9, -26.1),
    (253, -17.9), (255.1, -23.5), (257.3, -16.3), (259.4, -23), (262.2, -13.6), (265.7, -26.3), (268, -18.2), (270, -23.6), (271.9, -16.7), (274, -23.2),
    (276.1, -16.7), (278.2, -23.2), (280.3, -16.7), (282.3, -23.2), (284.4, -16.5), (286.5, -23.1), (288.6, -16.3), (290.6, -22.9), (293.8, -13.6), (298.1, -28.4),
    (302.8, -12), (306.9, -28.3), (310.2, -14.7), (313.2, -26.1), (316.3, -14.2), (319.4, -26.1), (321.8, -17.4), (323.7, -23.3), (326.8, -13.6), (330.1, -26),
    (332.4, -17.2), (334.5, -23.3), (337.4, -13.6), (340.7, -26), (343.6, -14.2), (346.9, -26.2), (349.2, -18), (351.3, -23.5), (353.3, -16.4), (355.6, -23),
    (358.5, -13.6), (363, -28.2), (367.2, -11.7), (370.5, -25.3), (373.6, -14), (376.7, -25.9), (379.7, -14.1), (382.9, -25.9), (385.9, -14.1), (389.2, -25.9),
    (392.1, -14), (395.2, -25.9), (398.5, -13.9), (400.4, -22.4), (402.5, -16.6), (405.8, -26.3), (409.1, -13.9), (411.2, -22.3), (413.2, -16.6), (416.5, -26.3),
    (420.7, -11.8), (425.5, -27.8), (429.5, -12.3), (432.8, -25.6), (435.2, -16.7), (437.4, -18.5), (439.7, -24), (442.9, -13.6), (446, -25.9), (449.1, -14.2),
    (452.4, -26.2), (454.5, -17.9), (456.5, -23), (458.6, -16.4), (460.7, -23), (463.8, -13.6), (467.3, -26.3), (469.4, -18.2), (471.4, -23.3), (473.5, -16.8),
    (475.6, -23.3), (477.7, -16.7), (479.7, -23.3), (481.8, -16.7), (483.9, -23.2), (486, -16.7), (488, -23.2), (489.9, -16.7), (492, -23.2), (494.1, -16.6),
    (496.2, -23.2), (498.3, -16.6), (500, -22.9),
]


def px_axes(left, top, right, bottom):
    return [left / W, 1 - bottom / H, (right - left) / W, (bottom - top) / H]


def put(x, y, s, size, **kw):
    # position given in pixels of the full size figure
    fig.text(x / W, 1 - y / H, s, fontsize=size, family='STIXGeneral', ha='center', va='center', color='black', **kw)


def style_axes(ax, xticks, pad_x):
    ax.set_yticks(y_ticks)
    ax.set_xticks(xticks)
    ax.set_ylim(-30, 30)
    ax.tick_params(direction='in', top=True, right=True, length=11, width=3, color=DARK,
                   labelsize=32, labelcolor=DARK)
    ax.tick_params(axis='y', pad=14)
    ax.tick_params(axis='x', pad=pad_x)
    for spine in ax.spines.values():
        spine.set_linewidth(3.2)
        spine.set_color(DARK)


plt.rcParams['font.family'] = ['Liberation Sans', 'DejaVu Sans']
plt.rcParams['mathtext.fontset'] = 'stix'
plt.rcParams['axes.unicode_minus'] = False

fig = plt.figure(figsize=(W / 100, H / 100), dpi=100)
ax_a = fig.add_axes(px_axes(295, 60, 1553, 984))
ax_b = fig.add_axes(px_axes(1884, 75, 3104, 1028))

for orbit, fill, colour in [(red_orbit, red_fill, RED), (blue_orbit, blue_fill, BLUE), (green_orbit, green_fill, GREEN)]:
    xs, ys = zip(*(orbit + fill))
    ax_a.plot(xs, ys, color=colour, lw=3, solid_joinstyle='round')
ax_a.set_xlim(-15, 20)
style_axes(ax_a, x_ticks_a, 24)

for series, colour in [(green_ts, GREEN), (blue_ts, BLUE), (red_ts, RED)]:
    ts, vals = zip(*series)
    ax_b.plot(ts, vals, color=colour, lw=3.2, solid_joinstyle='round')
ax_b.set_xlim(0, 500)
style_axes(ax_b, x_ticks_b, 18)

# axis labels are placed by hand, the subscript is nearly as big as the letter
put(104, 545, r'$\Upsilon$', 76, rotation=90)
put(150, 485, '5', 60, rotation=90)
put(884, 1134, r'$\Upsilon$', 76)
put(940, 1182, '2', 60)
put(1712, 538, r'$\Upsilon$', 76, rotation=90)
put(1752, 478, '5', 60, rotation=90)
put(2494, 1165, 't', 64)
put(824, 1300, r'($\mathbf{a}$)', 70)
put(2440, 1300, r'($\mathbf{b}$)', 70)

fig.savefig('out.png', dpi=100)
